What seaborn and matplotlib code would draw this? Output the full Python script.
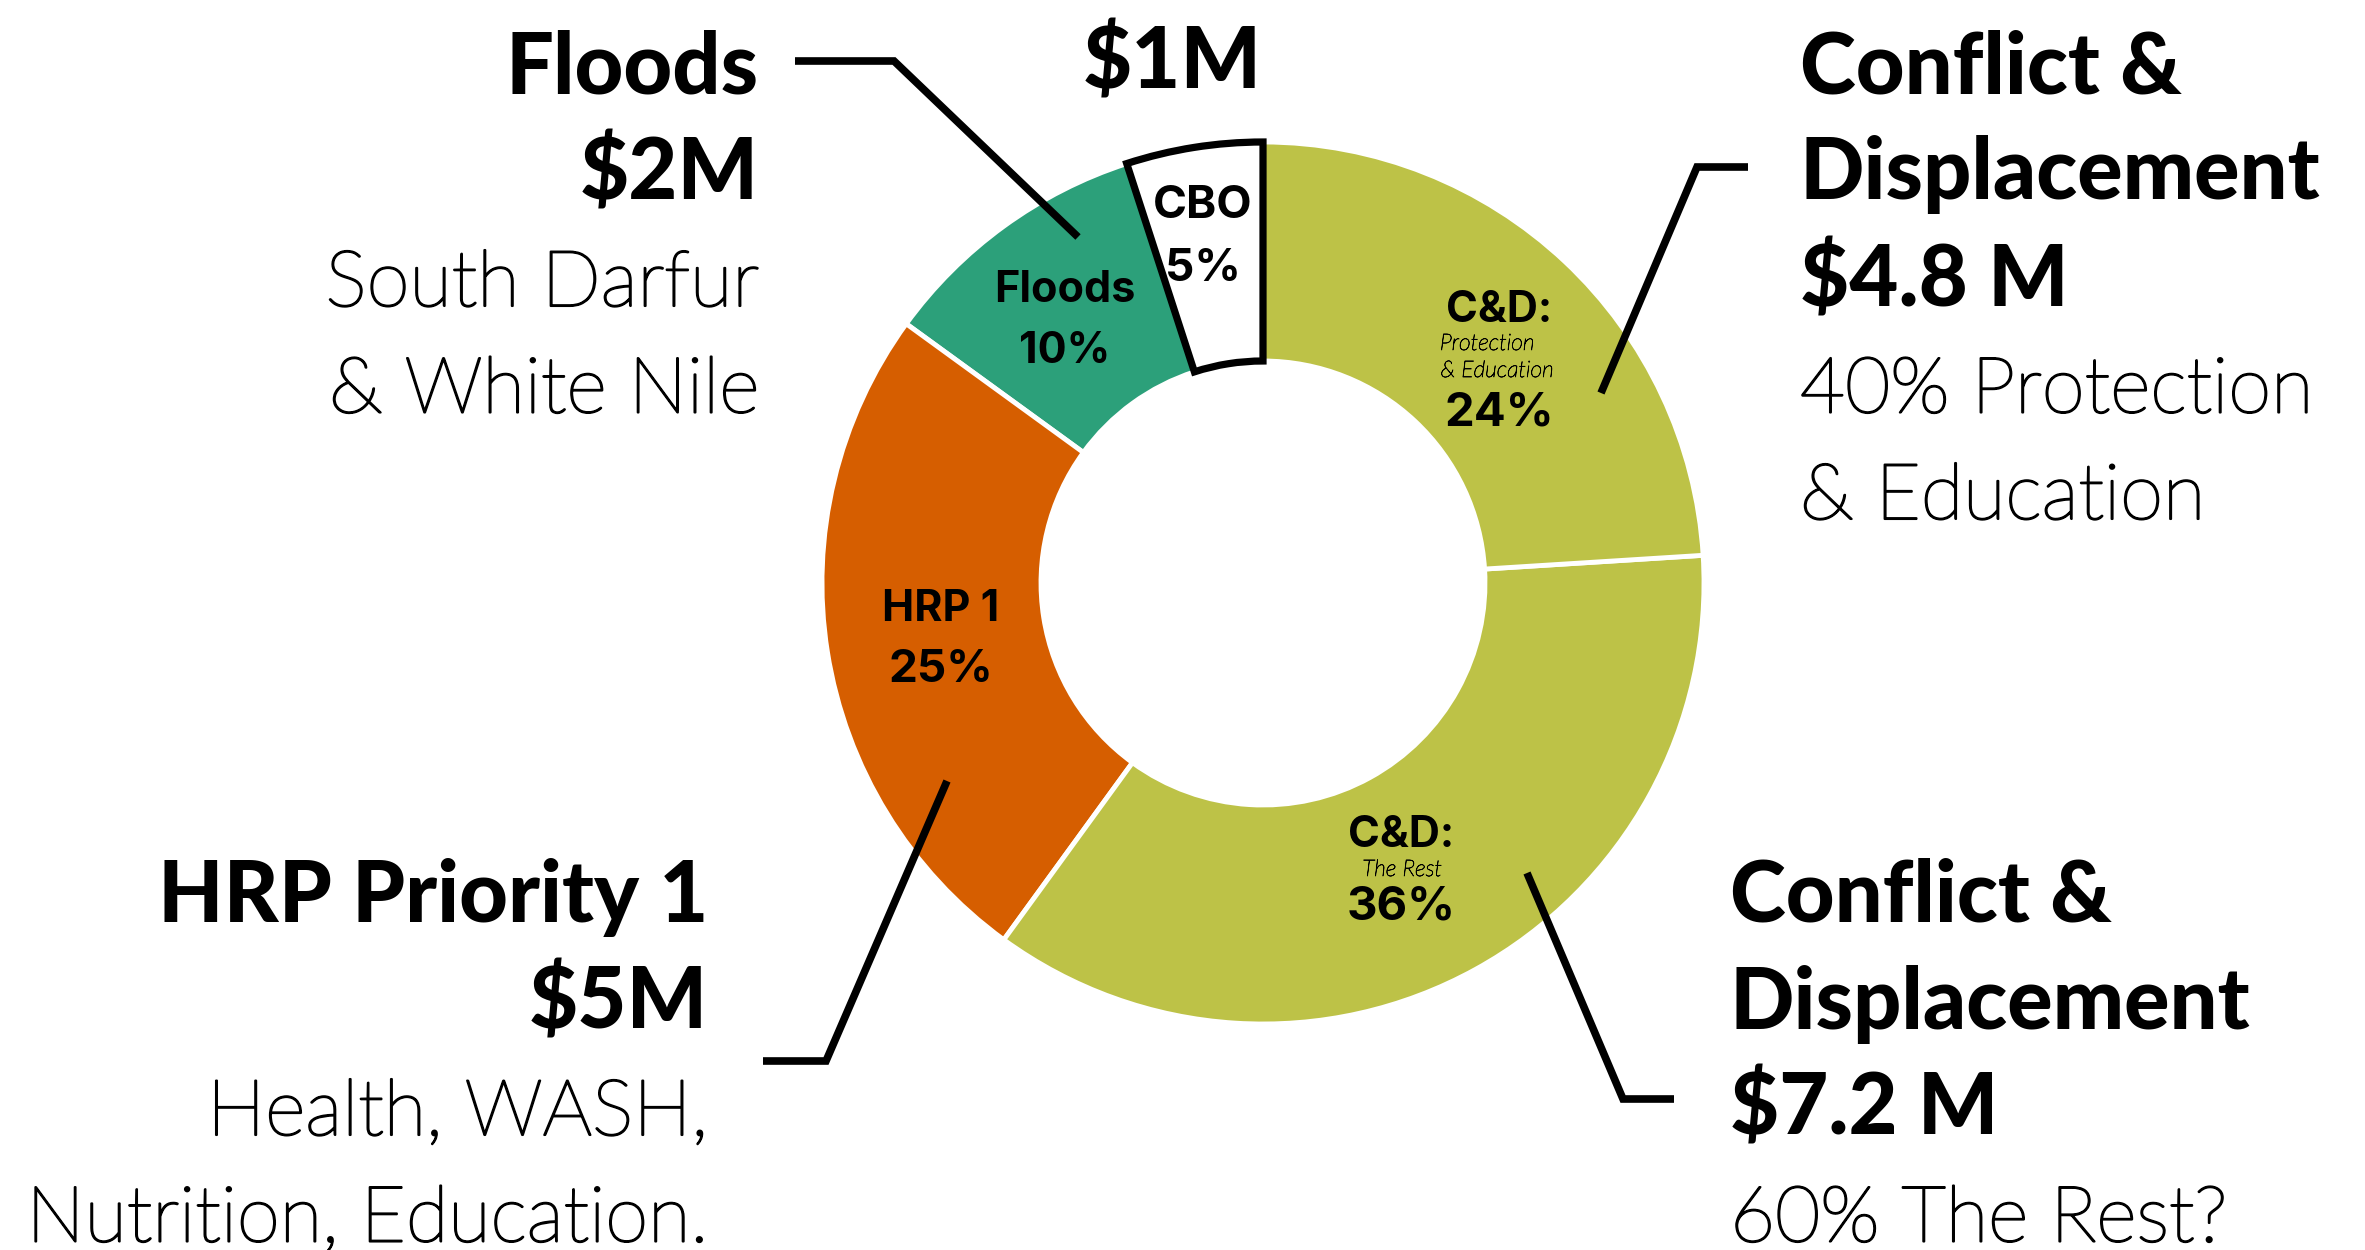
import matplotlib
matplotlib.use("Agg")
import matplotlib.pyplot as plt
import matplotlib.patheffects as pe
import seaborn as sns

# ---------------- data ----------------
categories = ["CBO", "Floods", "HRP 1", "C&D: The Rest", "C&D: Protection & Education"]
shares = [5, 10, 25, 36, 24]
slice_colors = ["#FFFFFF", "#2CA07A", "#D65E00", "#BDC247", "#BDC247"]

inner_titles = ["CBO", "Floods", "HRP 1", "C&D:", "C&D:"]
inner_subtitles = ["", "", "", "The Rest", "Protection\n& Education"]
inner_pcts = ["5%", "10%", "25%", "36%", "24%"]

block_floods = ["Floods", "$2M", "South Darfur", "& White Nile"]
block_cbo = ["$1M"]
block_cd_pe = ["Conflict &", "Displacement", "$4.8 M", "40% Protection", "& Education"]
block_hrp = ["HRP Priority 1", "$5M", "Health, WASH,", "Nutrition, Education."]
block_cd_rest = ["Conflict &", "Displacement", "$7.2 M", "60% The Rest?"]
bold_lines = [2, 1, 3, 2, 3]  # number of heavy lines in each block

# ---------------- style ----------------
sns.set_theme(style="white")
plt.rcParams["font.family"] = ["Lato", "DejaVu Sans"]
plt.rcParams["text.color"] = "black"
palette = sns.color_palette(slice_colors)

W, H = 2365, 1250
fig = plt.figure(figsize=(W / 100, H / 100), dpi=100)
ax = fig.add_axes([0, 0, 1, 1])

cx, cy, R, ring = 1263, H - 583, 441, 219
wedges, _ = ax.pie(shares, colors=palette, startangle=90, counterclock=True,
                   radius=R, center=(cx, cy),
                   wedgeprops=dict(width=ring, edgecolor="white", linewidth=3.5))
cbo = wedges[0]
cbo.set_edgecolor("black")
cbo.set_linewidth(5.2)
cbo.set_joinstyle("miter")
cbo.set_zorder(5)

ax.set_xlim(0, W)
ax.set_ylim(0, H)
ax.set_aspect("equal")
ax.axis("off")


def T(y):
    return H - y


light_fx = [pe.withStroke(linewidth=1.5, foreground="black")]
tiny_fx = [pe.withStroke(linewidth=0.5, foreground="black")]

# ---------------- inner labels ----------------
inner_font = ["Inter", "DejaVu Sans"]
# (x, title baseline, pct baseline, title size, pct size)
inner_layout = [
    (1203, 218, 281, 33, 33),
    (1065, 302, 363, 31, 31),
    (941, 621, 682, 31, 33),
    (1401, 847, 920, 31, 34),
    (1499, 322, 425, 31, 34),
]
sub_layout = [None, None, None, (1402, 876), (1487, 350)]
for i in range(len(categories)):
    x, ty, py, ts, ps = inner_layout[i]
    ax.text(x, T(ty), inner_titles[i], ha="center", va="baseline",
            fontsize=ts, fontweight="bold", family=inner_font, zorder=6)
    ax.text(x, T(py), inner_pcts[i], ha="center", va="baseline",
            fontsize=ps, fontweight="bold", family=inner_font, zorder=6)
    if inner_subtitles[i]:
        sx, sy = sub_layout[i]
        for k, line in enumerate(inner_subtitles[i].split("\n")):
            ax.text(sx + (10 if k else 0), T(sy + 27 * k), line, ha="center",
                    va="baseline", fontsize=16.5, fontstyle="italic",
                    fontweight="light", zorder=6, path_effects=tiny_fx)

# ---------------- outer text blocks ----------------
blocks = [block_floods, block_cbo, block_cd_pe, block_hrp, block_cd_rest]
block_layout = [  # x anchor, first baseline, alignment
    (759, 93, "right"),
    (1172, 88, "center"),
    (1800, 93, "left"),
    (708, 922, "right"),
    (1730, 922, "left"),
]
for b, lines in enumerate(blocks):
    x, y0, ha = block_layout[b]
    for k, line in enumerate(lines):
        heavy = k < bold_lines[b]
        kw = dict(fontsize=61, fontweight="black") if heavy else \
            dict(fontsize=56, fontweight="light", path_effects=light_fx)
        ax.text(x, T(y0 + 106.5 * k), line, ha=ha, va="baseline", zorder=6, **kw)

# ---------------- leader lines ----------------
leaders = [
    [(795, 61), (894, 61), (1078, 237)],
    [(1748, 167), (1697, 167), (1601, 393)],
    [(763, 1061), (826, 1061), (947, 781)],
    [(1674, 1099), (1623, 1099), (1527, 873)],
]
for pts in leaders:
    ax.plot([p[0] for p in pts], [T(p[1]) for p in pts], color="black",
            lw=5.5, solid_joinstyle="miter", solid_capstyle="butt", zorder=7)

fig.savefig("out.png", dpi=100, facecolor="white")
